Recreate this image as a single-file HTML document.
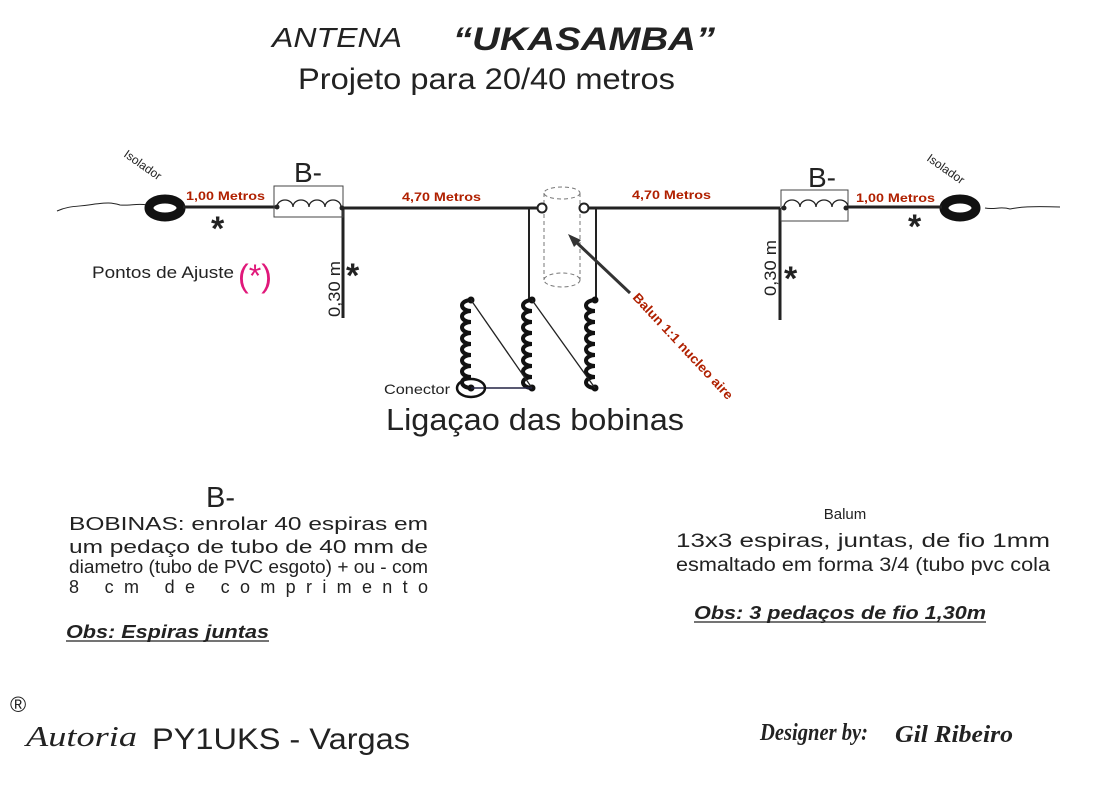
<!DOCTYPE html>
<html><head><meta charset="utf-8"><style>
html,body{margin:0;padding:0;background:#fff}
svg{display:block}
text{font-family:"Liberation Sans",sans-serif}
</style></head><body>
<svg width="1117" height="797" viewBox="0 0 1117 797" xmlns="http://www.w3.org/2000/svg">
<rect width="1117" height="797" fill="#fff"/>
<!-- Titles -->
<text x="272" y="47" font-size="28" font-style="italic" fill="#222" textLength="130" lengthAdjust="spacingAndGlyphs">ANTENA</text>
<text x="453" y="50" font-size="32" font-weight="bold" font-style="italic" fill="#222" textLength="262" lengthAdjust="spacingAndGlyphs">“UKASAMBA”</text>
<text x="298" y="89" font-size="30" fill="#222" textLength="377" lengthAdjust="spacingAndGlyphs">Projeto para 20/40 metros</text>

<!-- wavy lines -->
<path d="M57,211 C70,205 80,207 95,204 C105,203 110,202 120,205 C130,206 138,203 147,205" stroke="#222" fill="none" stroke-width="1"/>
<path d="M985,208 C995,210 1000,206 1010,209 C1020,207 1030,206 1060,207" stroke="#222" fill="none" stroke-width="1"/>

<!-- isolators -->
<ellipse cx="165" cy="208" rx="16" ry="9" fill="none" stroke="#111" stroke-width="9"/>
<ellipse cx="960" cy="208" rx="16" ry="9" fill="none" stroke="#111" stroke-width="9"/>
<text transform="translate(123,156) rotate(35)" font-size="12" fill="#222">Isolador</text>
<text transform="translate(926,160) rotate(35)" font-size="12" fill="#222">Isolador</text>

<!-- main wire -->
<g stroke="#222" stroke-width="3" fill="none">
<line x1="183" y1="207" x2="276" y2="207"/>
<line x1="343" y1="208" x2="541" y2="208"/>
<line x1="586" y1="208" x2="780" y2="208"/>
<line x1="848" y1="207" x2="942" y2="207"/>
<line x1="343" y1="208" x2="343" y2="318"/>
<line x1="780" y1="208" x2="780" y2="320"/>
<line x1="529" y1="208" x2="529" y2="300" stroke-width="2"/>
<line x1="596" y1="208" x2="596" y2="300" stroke-width="2"/>
</g>
<!-- boxes -->
<rect x="274" y="186" width="69" height="31" fill="none" stroke="#444" stroke-width="1"/>
<rect x="781" y="190" width="67" height="31" fill="none" stroke="#444" stroke-width="1"/>
<path d="M277,207 a8,7 0 0 1 16,0 a8,7 0 0 1 16,0 a8,7 0 0 1 16,0 a8,7 0 0 1 16,0" stroke="#222" fill="none" stroke-width="1.3"/>
<path d="M784,207 a8,7 0 0 1 16,0 a8,7 0 0 1 16,0 a8,7 0 0 1 16,0 a8,7 0 0 1 16,0" stroke="#222" fill="none" stroke-width="1.3"/>
<circle cx="277" cy="207" r="2.5" fill="#222"/><circle cx="342" cy="208" r="2.5" fill="#222"/>
<circle cx="784" cy="208" r="2.5" fill="#222"/><circle cx="846" cy="208" r="2.5" fill="#222"/>
<text x="294" y="182" font-size="28" fill="#222">B-</text>
<text x="808" y="187" font-size="28" fill="#222">B-</text>

<!-- labels -->
<g font-size="12" font-weight="bold" fill="#b02000">
<text x="186" y="200" textLength="79" lengthAdjust="spacingAndGlyphs">1,00 Metros</text>
<text x="402" y="201" textLength="79" lengthAdjust="spacingAndGlyphs">4,70 Metros</text>
<text x="632" y="199" textLength="79" lengthAdjust="spacingAndGlyphs">4,70 Metros</text>
<text x="856" y="202" textLength="79" lengthAdjust="spacingAndGlyphs">1,00 Metros</text>
</g>
<g font-size="34" font-weight="bold" fill="#222">
<text x="211" y="240">*</text>
<text x="346" y="287">*</text>
<text x="784" y="290">*</text>
<text x="908" y="238">*</text>
</g>
<text transform="translate(340,317) rotate(-90)" font-size="17" fill="#222" textLength="56" lengthAdjust="spacingAndGlyphs">0,30 m</text>
<text transform="translate(776,296) rotate(-90)" font-size="17" fill="#222" textLength="56" lengthAdjust="spacingAndGlyphs">0,30 m</text>
<text x="92" y="278" font-size="17" fill="#222" textLength="142" lengthAdjust="spacingAndGlyphs">Pontos de Ajuste</text>
<text x="238" y="287" font-size="32" fill="#e0187a" textLength="34" lengthAdjust="spacingAndGlyphs">(*)</text>

<!-- balun cylinder -->
<g stroke="#777" stroke-width="1" fill="none" stroke-dasharray="4,3">
<ellipse cx="562" cy="193" rx="18" ry="6"/>
<ellipse cx="562" cy="280" rx="18" ry="7"/>
<line x1="544" y1="193" x2="544" y2="280"/>
<line x1="580" y1="193" x2="580" y2="280"/>
</g>
<circle cx="542" cy="208" r="4.5" fill="#fff" stroke="#222" stroke-width="2"/>
<circle cx="584" cy="208" r="4.5" fill="#fff" stroke="#222" stroke-width="2"/>
<!-- arrow -->
<line x1="630" y1="293" x2="575" y2="241" stroke="#333" stroke-width="3"/>
<path d="M568,234 L581,240 L574,247 Z" fill="#333"/>
<text transform="translate(632,298) rotate(47)" font-size="13" font-weight="bold" fill="#b02000" textLength="140" lengthAdjust="spacingAndGlyphs">Balun 1:1 nucleo aire</text>

<!-- vertical coils -->
<g stroke="#111" stroke-width="4" fill="none">
<path d="M471,300 a9,5.5 0 1 0 0,11 a9,5.5 0 1 0 0,11 a9,5.5 0 1 0 0,11 a9,5.5 0 1 0 0,11 a9,5.5 0 1 0 0,11 a9,5.5 0 1 0 0,11 a9,5.5 0 1 0 0,11 a9,5.5 0 1 0 0,11"/>
<path d="M532,300 a9,5.5 0 1 0 0,11 a9,5.5 0 1 0 0,11 a9,5.5 0 1 0 0,11 a9,5.5 0 1 0 0,11 a9,5.5 0 1 0 0,11 a9,5.5 0 1 0 0,11 a9,5.5 0 1 0 0,11 a9,5.5 0 1 0 0,11"/>
<path d="M595,300 a9,5.5 0 1 0 0,11 a9,5.5 0 1 0 0,11 a9,5.5 0 1 0 0,11 a9,5.5 0 1 0 0,11 a9,5.5 0 1 0 0,11 a9,5.5 0 1 0 0,11 a9,5.5 0 1 0 0,11 a9,5.5 0 1 0 0,11"/>
</g>
<g fill="#111">
<circle cx="471" cy="300" r="3.5"/><circle cx="532" cy="300" r="3.5"/><circle cx="595" cy="300" r="3.5"/>
<circle cx="532" cy="388" r="3.5"/><circle cx="595" cy="388" r="3.5"/><circle cx="471" cy="388" r="3.5"/>
</g>
<line x1="471" y1="300" x2="532" y2="388" stroke="#222" stroke-width="1.3"/>
<line x1="532" y1="300" x2="595" y2="388" stroke="#222" stroke-width="1.3"/>
<line x1="471" y1="388" x2="532" y2="388" stroke="#224" stroke-width="1.5"/>
<ellipse cx="471" cy="388" rx="14" ry="9" fill="none" stroke="#111" stroke-width="2.5"/>
<text x="384" y="394" font-size="14" fill="#222" textLength="66" lengthAdjust="spacingAndGlyphs">Conector</text>
<text x="386" y="430" font-size="31" fill="#222" textLength="298" lengthAdjust="spacingAndGlyphs">Ligaçao das bobinas</text>

<!-- bottom left -->
<text x="206" y="507" font-size="29" fill="#222">B-</text>
<g font-size="18" fill="#222">
<text x="69" y="530" textLength="359" lengthAdjust="spacingAndGlyphs">BOBINAS: enrolar 40 espiras em</text>
<text x="69" y="553" textLength="359" lengthAdjust="spacingAndGlyphs">um pedaço de tubo de 40 mm de</text>
<text x="69" y="573" textLength="359" lengthAdjust="spacingAndGlyphs">diametro (tubo de PVC esgoto) + ou - com</text>
<text x="69" y="593" textLength="359" lengthAdjust="spacing">8 cm de comprimento</text>
</g>
<text x="66" y="638" font-size="18" font-weight="bold" font-style="italic" fill="#222" textLength="203" lengthAdjust="spacingAndGlyphs">Obs: Espiras juntas</text>
<line x1="66" y1="641" x2="269" y2="641" stroke="#222" stroke-width="1.2"/>

<!-- bottom right -->
<text x="845" y="519" font-size="15" fill="#222" text-anchor="middle">Balum</text>
<text x="676" y="547" font-size="19" fill="#222" textLength="374" lengthAdjust="spacingAndGlyphs">13x3 espiras, juntas, de fio 1mm</text>
<text x="676" y="571" font-size="19" fill="#222" textLength="374" lengthAdjust="spacingAndGlyphs">esmaltado em forma 3/4 (tubo pvc cola</text>
<text x="694" y="619" font-size="18" font-weight="bold" font-style="italic" fill="#222" textLength="292" lengthAdjust="spacingAndGlyphs">Obs: 3 pedaços de fio 1,30m</text>
<line x1="694" y1="622" x2="986" y2="622" stroke="#222" stroke-width="1.2"/>

<!-- footer -->
<text x="10" y="712" font-size="22" fill="#222">®</text>
<text x="26" y="746" font-size="28" font-style="italic" fill="#222" style="font-family:'Liberation Serif',serif" textLength="111" lengthAdjust="spacingAndGlyphs">Autoria</text>
<text x="152" y="749" font-size="30" fill="#222" textLength="258" lengthAdjust="spacingAndGlyphs">PY1UKS - Vargas</text>
<text x="760" y="740" font-size="24" font-style="italic" font-weight="bold" fill="#222" style="font-family:'Liberation Serif',serif" textLength="108" lengthAdjust="spacingAndGlyphs">Designer by:</text>
<text x="895" y="742" font-size="24" font-style="italic" font-weight="bold" fill="#222" style="font-family:'Liberation Serif',serif" textLength="118" lengthAdjust="spacingAndGlyphs">Gil Ribeiro</text>
</svg>
</body></html>
